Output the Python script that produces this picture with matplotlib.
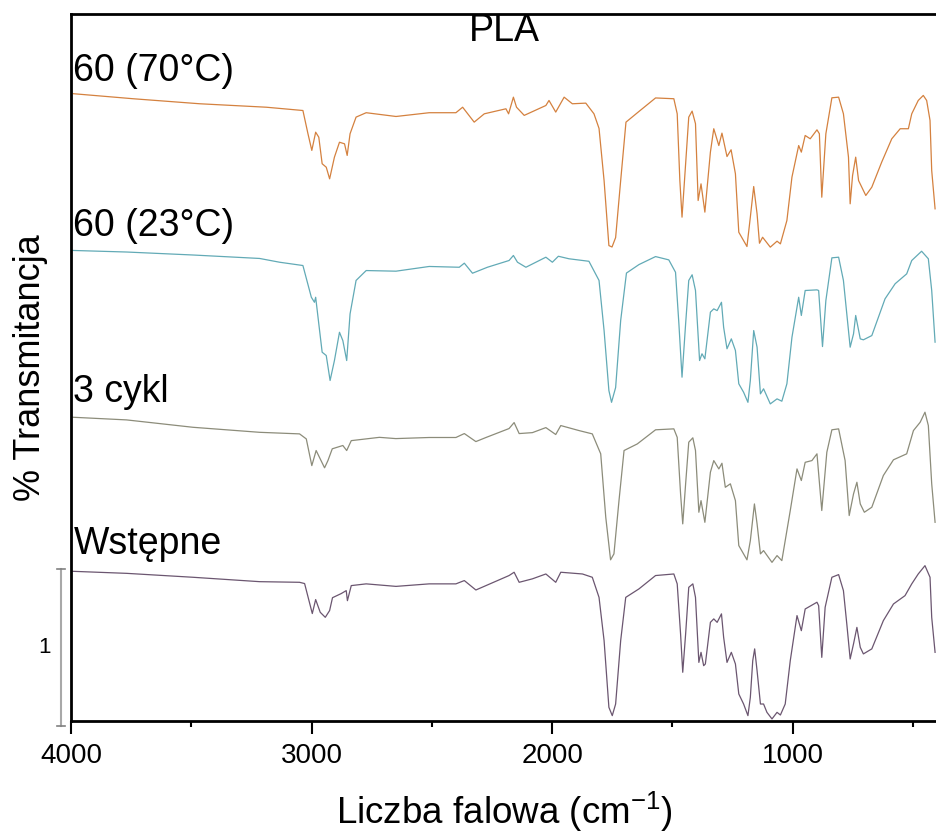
import matplotlib
matplotlib.use("Agg")
import matplotlib.pyplot as plt
from matplotlib.ticker import MultipleLocator

plt.rcParams['font.family'] = ['Liberation Sans', 'DejaVu Sans']

# spectra, already stacked (arbitrary transmittance units)
wn_70 = [3990, 3742, 3465, 3188, 3036, 3015, 2999, 2983, 2970, 2956, 2939, 2925, 2905, 2884, 2863,
         2852, 2840, 2815, 2773, 2649, 2511, 2400, 2372, 2324, 2282, 2192, 2181, 2161, 2148, 2116,
         2026, 2013, 1985, 1950, 1916, 1860, 1826, 1805, 1784, 1764, 1751, 1736, 1715, 1693, 1639,
         1570, 1494, 1480, 1469, 1460, 1445, 1432, 1418, 1404, 1393, 1381, 1365, 1342, 1328, 1307,
         1294, 1273, 1256, 1238, 1224, 1190, 1176, 1162, 1148, 1138, 1125, 1093, 1065, 1051, 1024,
         1003, 975, 964, 948, 927, 899, 889, 879, 862, 837, 809, 789, 768, 761, 751, 738, 726, 696,
         671, 630, 588, 553, 519, 505, 478, 457, 443, 429, 422, 408]
t_70 = [3.992, 3.960, 3.928, 3.906, 3.885, 3.737, 3.631, 3.747, 3.715, 3.546, 3.524, 3.450, 3.588,
        3.683, 3.673, 3.599, 3.737, 3.843, 3.871, 3.847, 3.871, 3.871, 3.906, 3.811, 3.864, 3.896,
        3.864, 3.970, 3.906, 3.854, 3.917, 3.949, 3.875, 3.970, 3.928, 3.932, 3.864, 3.771, 3.439,
        3.025, 3.016, 3.076, 3.439, 3.811, 3.879, 3.965, 3.960, 3.864, 3.439, 3.206, 3.546, 3.843,
        3.881, 3.801, 3.312, 3.418, 3.238, 3.620, 3.769, 3.662, 3.741, 3.592, 3.635, 3.482, 3.110,
        3.019, 3.206, 3.401, 3.227, 3.040, 3.078, 3.015, 3.053, 3.036, 3.185, 3.461, 3.662, 3.620,
        3.726, 3.705, 3.762, 3.737, 3.333, 3.737, 3.966, 3.970, 3.864, 3.588, 3.291, 3.471, 3.588,
        3.439, 3.344, 3.397, 3.556, 3.705, 3.769, 3.769, 3.864, 3.949, 3.981, 3.949, 3.822, 3.503,
        3.259]

wn_23 = [3993, 3769, 3493, 3216, 3133, 3036, 3001, 2988, 2983, 2970, 2956, 2939, 2923, 2905, 2884,
         2870, 2854, 2840, 2815, 2773, 2649, 2511, 2386, 2365, 2331, 2269, 2179, 2161, 2144, 2109,
         2026, 1999, 1974, 1930, 1847, 1805, 1784, 1764, 1753, 1736, 1715, 1691, 1639, 1570, 1515,
         1487, 1473, 1460, 1445, 1432, 1418, 1404, 1387, 1377, 1365, 1342, 1328, 1314, 1296, 1287,
         1273, 1255, 1238, 1224, 1204, 1186, 1176, 1162, 1148, 1134, 1121, 1093, 1065, 1045, 1024,
         1003, 975, 964, 948, 899, 892, 876, 862, 837, 809, 789, 775, 761, 747, 738, 719, 706, 671,
         616, 574, 526, 505, 464, 436, 422, 408]
t_23 = [2.994, 2.984, 2.965, 2.943, 2.919, 2.898, 2.696, 2.664, 2.696, 2.527, 2.346, 2.325, 2.166,
        2.293, 2.473, 2.420, 2.293, 2.590, 2.803, 2.866, 2.862, 2.892, 2.887, 2.913, 2.849, 2.887,
        2.930, 2.962, 2.919, 2.887, 2.951, 2.919, 2.957, 2.941, 2.925, 2.803, 2.484, 2.102, 2.027,
        2.121, 2.548, 2.850, 2.904, 2.955, 2.934, 2.855, 2.527, 2.187, 2.527, 2.803, 2.839, 2.739,
        2.293, 2.336, 2.304, 2.601, 2.622, 2.611, 2.664, 2.505, 2.368, 2.431, 2.357, 2.145, 2.091,
        2.027, 2.166, 2.484, 2.378, 2.081, 2.113, 2.017, 2.049, 2.034, 2.145, 2.441, 2.696, 2.580,
        2.739, 2.743, 2.739, 2.382, 2.675, 2.947, 2.951, 2.803, 2.590, 2.378, 2.463, 2.580, 2.431,
        2.425, 2.452, 2.686, 2.782, 2.845, 2.930, 2.989, 2.941, 2.739, 2.410]

wn_3c = [3993, 3769, 3493, 3216, 3050, 3022, 2999, 2981, 2946, 2932, 2914, 2870, 2854, 2835, 2718,
         2650, 2511, 2400, 2365, 2317, 2275, 2179, 2158, 2137, 2082, 2026, 1985, 1964, 1888, 1833,
         1798, 1777, 1757, 1743, 1722, 1701, 1646, 1570, 1494, 1480, 1466, 1457, 1445, 1432, 1415,
         1404, 1390, 1381, 1365, 1342, 1328, 1307, 1294, 1280, 1259, 1238, 1224, 1190, 1176, 1159,
         1148, 1134, 1121, 1086, 1065, 1045, 1010, 982, 964, 948, 920, 899, 879, 858, 837, 809, 782,
         765, 747, 733, 719, 702, 671, 623, 581, 526, 498, 470, 450, 436, 422, 408]
t_3c = [1.932, 1.915, 1.868, 1.836, 1.826, 1.794, 1.624, 1.720, 1.610, 1.656, 1.731, 1.752, 1.720,
        1.783, 1.804, 1.796, 1.803, 1.803, 1.828, 1.777, 1.803, 1.860, 1.898, 1.828, 1.834, 1.866,
        1.822, 1.879, 1.847, 1.826, 1.699, 1.295, 1.024, 1.062, 1.401, 1.720, 1.762, 1.852, 1.858,
        1.804, 1.444, 1.253, 1.508, 1.773, 1.801, 1.720, 1.327, 1.401, 1.263, 1.582, 1.656, 1.603,
        1.639, 1.486, 1.508, 1.401, 1.115, 1.024, 1.146, 1.380, 1.253, 1.062, 1.083, 1.008, 1.051,
        1.019, 1.338, 1.603, 1.529, 1.645, 1.656, 1.699, 1.338, 1.709, 1.852, 1.858, 1.656, 1.306,
        1.444, 1.518, 1.380, 1.327, 1.359, 1.561, 1.661, 1.699, 1.847, 1.900, 1.964, 1.879, 1.508,
        1.263]

wn_w = [3993, 3769, 3493, 3216, 3050, 3029, 2997, 2983, 2964, 2943, 2925, 2913, 2877, 2856, 2851,
        2835, 2773, 2649, 2511, 2400, 2365, 2317, 2275, 2179, 2158, 2137, 2082, 2026, 1985, 1964,
        1874, 1833, 1805, 1784, 1764, 1750, 1736, 1715, 1694, 1639, 1570, 1494, 1480, 1466, 1457,
        1445, 1432, 1415, 1404, 1390, 1381, 1370, 1363, 1342, 1328, 1314, 1296, 1287, 1273, 1255,
        1238, 1224, 1204, 1186, 1176, 1166, 1158, 1148, 1134, 1121, 1107, 1086, 1065, 1051, 1031,
        1010, 982, 964, 948, 899, 892, 879, 865, 837, 809, 789, 775, 761, 747, 733, 719, 706, 671,
        623, 581, 533, 505, 478, 450, 429, 422, 408]
t_w = [0.951, 0.938, 0.913, 0.885, 0.881, 0.873, 0.682, 0.771, 0.690, 0.658, 0.701, 0.783, 0.809,
       0.828, 0.764, 0.860, 0.871, 0.855, 0.871, 0.871, 0.892, 0.832, 0.860, 0.924, 0.945, 0.881,
       0.903, 0.934, 0.881, 0.945, 0.934, 0.913, 0.785, 0.510, 0.085, 0.032, 0.106, 0.510, 0.785,
       0.839, 0.924, 0.934, 0.871, 0.552, 0.308, 0.552, 0.849, 0.871, 0.785, 0.371, 0.435, 0.350,
       0.361, 0.626, 0.648, 0.626, 0.680, 0.531, 0.371, 0.435, 0.361, 0.170, 0.106, 0.032, 0.148,
       0.382, 0.457, 0.318, 0.106, 0.106, 0.053, 0.011, 0.053, 0.036, 0.106, 0.382, 0.669, 0.573,
       0.711, 0.754, 0.732, 0.403, 0.722, 0.913, 0.930, 0.828, 0.616, 0.393, 0.489, 0.594, 0.467,
       0.425, 0.457, 0.637, 0.743, 0.796, 0.871, 0.934, 0.987, 0.913, 0.658, 0.435]

labels = ['60 (70°C)', '60 (23°C)', '3 cykl', 'Wstępne']
label_y = [4.076, 3.083, 2.032, 1.064]
colors = ['#d4813f', '#62aab6', '#8c8c7a', '#6b5670']

fig = plt.figure(figsize=(9.37, 8.34), dpi=100)
ax = fig.add_axes([0.0758, 0.1359, 0.9242, 0.8474])

series = [(wn_70, t_70), (wn_23, t_23), (wn_3c, t_3c), (wn_w, t_w)]
for (x, y), c, lab, ly in zip(series, colors, labels, label_y):
    ax.plot(x, y, color=c, lw=0.9)
    ax.text(3990, ly, lab, fontsize=27, va='baseline', ha='left')

ax.set_xlim(4000, 400)
ax.set_ylim(0, 4.5)
ax.xaxis.set_major_locator(MultipleLocator(1000))
ax.xaxis.set_minor_locator(MultipleLocator(500))
ax.tick_params(axis='x', which='major', length=9, width=1.5, labelsize=20, pad=7)
ax.tick_params(axis='x', which='minor', length=4.5, width=1.5)
ax.set_yticks([])
ax.spines['right'].set_visible(False)
for s in ['left', 'top', 'bottom']:
    ax.spines[s].set_linewidth(2)

ax.text(0.5, 0.962, 'PLA', transform=ax.transAxes, fontsize=27, ha='center', va='baseline')

# scale bar = 1 unit
tr = ax.get_yaxis_transform()
ax.plot([-0.0115, -0.0115], [-0.032, 0.968], transform=tr, color='#a8a8a8', lw=1.5, clip_on=False)
for yb in [-0.032, 0.968]:
    ax.plot([-0.0165, -0.0065], [yb, yb], transform=tr, color='#808080', lw=1.2, clip_on=False)
ax.text(-0.031, 0.468, '1', transform=tr, fontsize=16, ha='center', va='center')

ax.set_xlabel('Liczba falowa (cm$\\mathregular{^{-1}}$)', fontsize=26.5)
ax.xaxis.set_label_coords(0.5, -0.146)
ax.xaxis.label.set_va('baseline')
ax.set_ylabel('% Transmitancja', fontsize=26)
ax.yaxis.set_label_coords(-0.0266, 0.5)

fig.savefig('out.png', dpi=100)
